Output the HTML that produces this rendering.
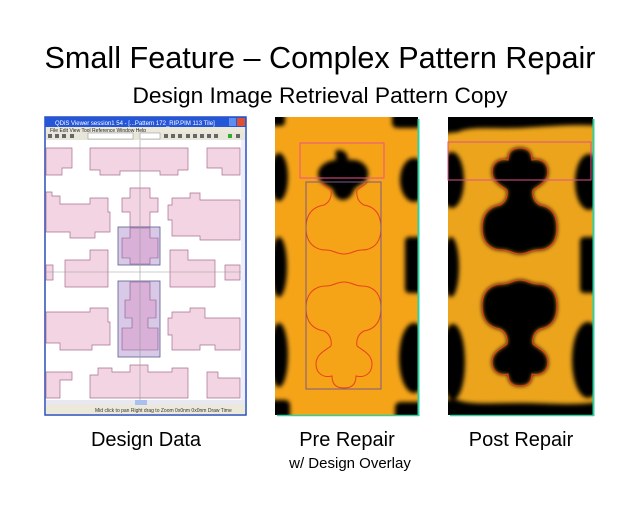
<!DOCTYPE html>
<html><head><meta charset="utf-8"><style>
html,body{margin:0;padding:0;background:#fff;}
svg{display:block;font-family:"Liberation Sans",Arial,sans-serif;}
</style></head><body>
<svg width="640" height="515" viewBox="0 0 640 515" xmlns="http://www.w3.org/2000/svg">
<defs>
<filter id="bl" x="-20%" y="-20%" width="140%" height="140%"><feGaussianBlur stdDeviation="2.2"/></filter>
<clipPath id="cm"><rect x="275" y="117" width="143" height="298"/></clipPath>
<clipPath id="cr"><rect x="448" y="117" width="145" height="298"/></clipPath>
<clipPath id="cp"><rect x="306" y="182" width="75" height="207"/></clipPath>
<path id="sh" d="M520,148 C528,148 532,152 532,160 C540,158 548,162 548,172 C548,182 538,186 533,190 C532,196 534,202 540,205 C552,207 557,215 557,228 C557,244 548,250 538,250 C530,250 528,254 520,254 C512,254 510,250 502,250 C492,250 482,244 482,228 C482,215 488,207 500,205 C506,202 508,196 507,190 C502,186 492,182 492,172 C492,162 500,158 508,160 C508,152 512,148 520,148 Z"/>
</defs>

<text x="320" y="68" font-size="31" text-anchor="middle" textLength="551" lengthAdjust="spacingAndGlyphs">Small Feature – Complex Pattern Repair</text>
<text x="320" y="103" font-size="22" text-anchor="middle" textLength="375" lengthAdjust="spacingAndGlyphs">Design Image Retrieval Pattern Copy</text>

<!-- Left panel: screenshot -->
<rect x="45" y="117" width="201" height="298" fill="#fff" stroke="#2a4fb8" stroke-width="1.5"/>
<rect x="45" y="117" width="201" height="10" fill="#2556d8"/>
<text x="55" y="125" font-size="6" fill="#fff">QDiS Viewer session1 54 - [...Pattern 172_RIP.PIM 113 Tile]</text>
<rect x="229" y="118" width="7" height="8" fill="#5a8ef0"/><rect x="237" y="118" width="8" height="8" fill="#e05030"/>
<rect x="46" y="127" width="199" height="5" fill="#ece9d8"/>
<text x="50" y="132" font-size="5" fill="#222">File  Edit  View  Tool  Reference  Window  Help</text>
<rect x="46" y="132" width="199" height="8" fill="#e8e6da"/>
<rect x="88" y="133" width="45" height="6" fill="#fff" stroke="#888" stroke-width="0.5"/>
<rect x="140" y="133" width="20" height="6" fill="#fff" stroke="#888" stroke-width="0.5"/>
<g fill="#666"><rect x="48" y="134" width="4" height="4"/><rect x="55" y="134" width="4" height="4"/><rect x="62" y="134" width="4" height="4"/><rect x="70" y="134" width="4" height="4"/><rect x="164" y="134" width="4" height="4"/><rect x="171" y="134" width="4" height="4"/><rect x="178" y="134" width="4" height="4"/><rect x="186" y="134" width="4" height="4"/><rect x="193" y="134" width="4" height="4"/><rect x="200" y="134" width="4" height="4"/><rect x="207" y="134" width="4" height="4"/><rect x="214" y="134" width="4" height="4"/><rect x="228" y="134" width="4" height="4" fill="#3a3"/><rect x="236" y="134" width="4" height="4"/></g>
<g fill="#f2d4e2" stroke="#a87090" stroke-width="0.7">
<path d="M90,148 H188 V170 H178 V175 H160 V171 H120 V175 H100 V170 H90 Z"/>
<path d="M46,148 H72 V168 H62 V175 H46 Z"/>
<path d="M207,148 H240 V175 H222 V168 H207 Z"/>
<path d="M46,192 H52 V196 H60 V204 H90 V198 H108 V212 H110 V232 H95 V238 H70 V232 H46 Z"/>
<path d="M172,198 H190 V193 H200 V200 H240 V240 H200 V236 H172 V220 H168 V205 H172 Z"/>
<path d="M130,188 H150 V198 H158 V212 H150 V227 H130 V212 H122 V198 H130 Z"/>
<path d="M90,250 H108 V287 H65 V260 H90 Z"/>
<path d="M170,250 H188 V260 H215 V287 H170 Z"/>
<path d="M46,265 H53 V280 H46 Z"/><path d="M225,265 H240 V280 H225 Z"/>
<path d="M46,312 H90 V308 H108 V322 H110 V345 H92 V350 H60 V343 H46 Z"/>
<path d="M168,318 H172 V312 H190 V308 H205 V318 H240 V350 H215 V345 H200 V350 H172 V335 H168 Z"/>
<path d="M98,368 H112 V372 H130 V365 H148 V372 H172 V368 H188 V398 H90 V375 H98 Z"/>
<path d="M46,372 H72 V380 H60 V398 H46 Z"/>
<path d="M207,372 H218 V378 H240 V398 H207 Z"/>
</g>
<g fill="#c8b4dc" fill-opacity="0.7" stroke="#5a5a90" stroke-width="0.8">
<rect x="118" y="227" width="42" height="38"/>
<rect x="118" y="281" width="42" height="76"/>
</g>
<g fill="#d8b0d8" stroke="#8a5a8a" stroke-width="0.6">
<path d="M130,228 H150 V238 H158 V258 H150 V264 H130 V258 H122 V238 H130 Z"/>
<path d="M130,282 H150 V300 H156 V318 H148 V328 H158 V350 H122 V328 H132 V318 H125 V300 H130 Z"/>
</g>
<line x1="46" y1="272" x2="245" y2="272" stroke="#999" stroke-width="0.6"/>
<line x1="140" y1="140" x2="140" y2="400" stroke="#999" stroke-width="0.6"/>
<rect x="241" y="140" width="4" height="260" fill="#eef"/>
<rect x="46" y="400" width="199" height="5" fill="#e8e8f0"/>
<rect x="135" y="400" width="12" height="5" fill="#a8c0f0"/>
<rect x="46" y="405" width="199" height="9" fill="#ece9d8"/>
<text x="95" y="412" font-size="5" fill="#333">Mid click to pan  Right drag to Zoom   0x0nm  0x0nm   Draw Time</text>

<!-- Middle panel -->
<g clip-path="url(#cm)">
<rect x="275" y="117" width="143" height="298" fill="#f5a418"/>
<g fill="#000" filter="url(#bl)">
<rect x="270" y="112" width="15" height="14" rx="4"/>
<rect x="392" y="112" width="30" height="16" rx="5"/>
<ellipse cx="279" cy="177" rx="9" ry="24"/>
<ellipse cx="279" cy="267" rx="8" ry="30"/>
<ellipse cx="279" cy="355" rx="9" ry="32"/>
<rect x="270" y="400" width="20" height="20" rx="5"/>
<ellipse cx="414" cy="180" rx="14" ry="22"/>
<rect x="405" y="237" width="20" height="56" rx="4"/>
<ellipse cx="414" cy="358" rx="15" ry="35"/>
<rect x="395" y="402" width="30" height="18" rx="5"/>
<path d="M338,150 C346,150 348,155 348,160 C360,158 370,166 368,176 C366,184 356,186 354,190 C352,196 348,200 343,200 C338,200 334,196 333,190 C330,186 318,184 318,174 C318,166 328,160 336,160 C336,155 334,150 338,150 Z"/>
</g>
</g>
<g clip-path="url(#cp)" fill="none" stroke="#e8401c" stroke-width="1">
<use href="#sh" transform="translate(-176,0)"/>
<use href="#sh" transform="translate(-176,536) scale(1,-1)"/>
</g>
<rect x="300" y="143" width="84" height="35" fill="none" stroke="#f0508a" stroke-width="1"/>
<rect x="306" y="182" width="75" height="207" fill="none" stroke="#7a5a8a" stroke-width="1"/>
<line x1="418.5" y1="119" x2="418.5" y2="416" stroke="#2fd0a0" stroke-width="2"/>
<line x1="277" y1="415.5" x2="419" y2="415.5" stroke="#2fd0a0" stroke-width="1.5"/>

<!-- Right panel -->
<g clip-path="url(#cr)">
<rect x="448" y="117" width="145" height="298" fill="#eca41c"/>
<g fill="#000" filter="url(#bl)">
<path d="M440,110 H600 V126 C570,124 560,126 520,128 C490,129 470,126 458,132 L440,134 Z"/>
<ellipse cx="452" cy="180" rx="12" ry="28"/>
<ellipse cx="451" cy="267" rx="8" ry="30"/>
<ellipse cx="453" cy="362" rx="12" ry="38"/>
<ellipse cx="589" cy="182" rx="14" ry="28"/>
<rect x="580" y="237" width="20" height="56" rx="4"/>
<ellipse cx="588" cy="360" rx="16" ry="38"/>
<path d="M440,420 H600 V402 C570,406 550,403 520,403 C490,403 470,405 458,400 L440,400 Z"/>
<use href="#sh"/>
<use href="#sh" transform="translate(0,534) scale(1,-1)"/>
</g>
<g fill="none" stroke="#e8401c" stroke-width="1">
<use href="#sh"/>
<use href="#sh" transform="translate(0,534) scale(1,-1)"/>
</g>
</g>
<rect x="448" y="142" width="143" height="38" fill="none" stroke="#e0508a" stroke-width="1"/>
<line x1="593.5" y1="119" x2="593.5" y2="416" stroke="#2fd0a0" stroke-width="2"/>
<line x1="450" y1="415.5" x2="594" y2="415.5" stroke="#2fd0a0" stroke-width="1.5"/>

<text x="146" y="446" font-size="20" text-anchor="middle">Design Data</text>
<text x="347" y="446" font-size="20" text-anchor="middle">Pre Repair</text>
<text x="350" y="468" font-size="15" text-anchor="middle">w/ Design Overlay</text>
<text x="521" y="446" font-size="20" text-anchor="middle">Post Repair</text>
</svg>
</body></html>
